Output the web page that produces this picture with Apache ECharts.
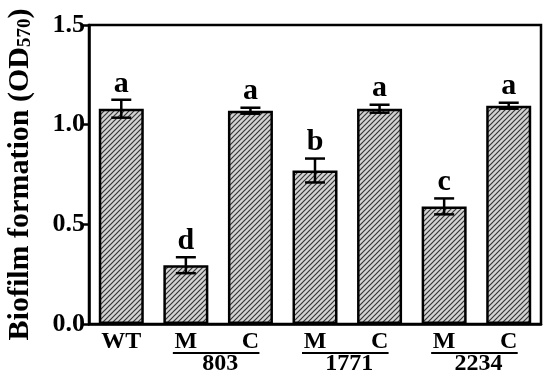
<!DOCTYPE html>
<html><head><meta charset="utf-8">
<script src="https://cdn.jsdelivr.net/npm/echarts@6/dist/echarts.min.js"></script>
<style>html,body{margin:0;padding:0;background:#fff}#c{width:550px;height:380px}</style>
</head><body><div id="c"></div>
<script>
// ---- data ----
const strainLabels = ['WT', 'M', 'C', 'M', 'C', 'M', 'C'];
const means  = [1.08, 0.295, 1.07, 0.77, 1.08, 0.59, 1.095];
const errors = [0.045, 0.04, 0.015, 0.06, 0.02, 0.04, 0.015];
const letters = ['a', 'd', 'a', 'b', 'a', 'c', 'a'];
const groupLabels = ['803', '1771', '2234'];
const groupSpans = [[1, 2], [3, 4], [5, 6]];
const yTickLabels = ['0.0', '0.5', '1.0', '1.5'];

const FONT = 'Liberation Serif';

function hatch() {
  const s = 5;
  const c = document.createElement('canvas');
  c.width = s; c.height = s;
  const g = c.getContext('2d');
  g.fillStyle = '#d3d3d3'; g.fillRect(0, 0, s, s);
  g.strokeStyle = '#353535'; g.lineWidth = 1.2;
  g.beginPath();
  g.moveTo(-1, s + 1); g.lineTo(s + 1, -1);
  g.moveTo(-1, 1); g.lineTo(1, -1);
  g.moveTo(s - 1, s + 1); g.lineTo(s + 1, s - 1);
  g.stroke();
  return c;
}

const chart = echarts.init(document.getElementById('c'), null, {renderer: 'canvas'});
const cats = strainLabels.map((s, i) => String(i));

chart.setOption({
  animation: false,
  grid: {left: 89, right: 9, top: 25, bottom: 56, containLabel: false, outerBoundsMode: 'none', show: true, borderColor: '#000', borderWidth: 2.5, backgroundColor: 'transparent'},
  xAxis: {
    type: 'category', data: cats,
    axisLine: {lineStyle: {color: '#000', width: 2.5}},
    axisTick: {alignWithLabel: true, length: 6, lineStyle: {color: '#000', width: 2.5}},
    axisLabel: {formatter: (v, i) => strainLabels[i], color: '#000', fontFamily: FONT, fontWeight: 'bold', fontSize: 24, margin: 6}
  },
  yAxis: {
    type: 'value', min: 0, max: 1.5, interval: 0.5,
    name: '{a|Biofilm formation (OD}{s|570}{a|)}',
    nameLocation: 'middle', nameGap: 54, nameRotate: 90,
    nameTextStyle: {
      rich: {
        a: {fontFamily: FONT, fontWeight: 'bold', fontSize: 30, color: '#000'},
        s: {fontFamily: FONT, fontWeight: 'bold', fontSize: 19, color: '#000', padding: [10, 0, 0, 0], verticalAlign: 'bottom'}
      }
    },
    axisLine: {show: true, lineStyle: {color: '#000', width: 2.5}},
    axisTick: {show: true, length: 7, lineStyle: {color: '#000', width: 2.5}},
    splitLine: {show: false},
    axisLabel: {formatter: v => yTickLabels[Math.round(v / 0.5)], color: '#000', fontFamily: FONT, fontWeight: 'bold', fontSize: 26, margin: 4}
  },
  series: [
    {
      type: 'bar', data: means, barWidth: 45,
      itemStyle: {color: {image: hatch(), repeat: 'repeat'}, borderColor: '#000', borderWidth: 2.5}
    },
    {
      type: 'custom', data: means.map((m, i) => [i, m, errors[i]]), z: 5,
      renderItem: function (params, api) {
        const i = api.value(0), m = api.value(1), e = api.value(2);
        const top = api.coord([i, m + e]);
        const bot = api.coord([i, m - e]);
        const hw = 10;
        const st = {stroke: '#000', lineWidth: 2.5};
        return {type: 'group', children: [
          {type: 'line', shape: {x1: top[0], y1: top[1], x2: bot[0], y2: bot[1]}, style: st},
          {type: 'line', shape: {x1: top[0] - hw, y1: top[1], x2: top[0] + hw, y2: top[1]}, style: st},
          {type: 'line', shape: {x1: bot[0] - hw, y1: bot[1], x2: bot[0] + hw, y2: bot[1]}, style: st},
          {type: 'text', x: top[0], y: top[1] - 1, style: {text: letters[i], fill: '#000', fontFamily: FONT, fontWeight: 'bold', fontSize: 30, align: 'center', verticalAlign: 'bottom'}}
        ]};
      }
    },
    {
      type: 'custom', data: groupSpans.map((g, k) => [g[0], g[1], k]), z: 5, clip: false,
      renderItem: function (params, api) {
        const a = api.coord([api.value(0), 0]);
        const b = api.coord([api.value(1), 0]);
        const k = api.value(2);
        const y = a[1] + 29;
        return {type: 'group', children: [
          {type: 'line', shape: {x1: a[0] - 13, y1: y, x2: b[0] + 9, y2: y}, style: {stroke: '#000', lineWidth: 2}},
          {type: 'text', x: (a[0] + b[0]) / 2 + 2, y: y - 1, style: {text: groupLabels[k], fill: '#000', fontFamily: FONT, fontWeight: 'bold', fontSize: 24, align: 'center', verticalAlign: 'top'}}
        ]};
      }
    }
  ]
});
</script>
</body></html>
